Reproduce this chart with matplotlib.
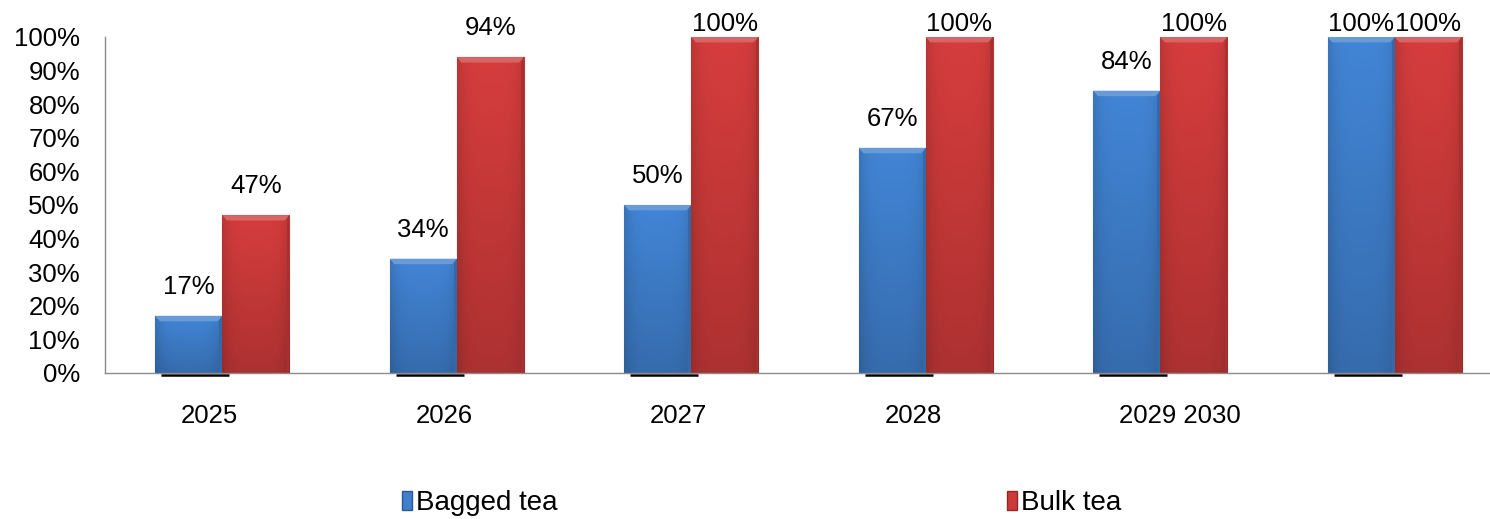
import numpy as np
import matplotlib.pyplot as plt
from matplotlib.patches import Patch, Polygon
from matplotlib.colors import to_rgb

plt.rcParams["font.family"] = ["Liberation Sans", "DejaVu Sans"]

years = ["2025", "2026", "2027", "2028", "2029 2030"]
bagged = [0.17, 0.34, 0.50, 0.67, 0.84, 1.00]
bulk = [0.47, 0.94, 1.00, 1.00, 1.00, 1.00]
series_names = ["Bagged tea", "Bulk tea"]

BLUE = "#3f7fcc"
RED = "#cc3a3a"
W = 0.286


def shade(color, f):
    c = np.array(to_rgb(color))
    if f >= 1:
        return tuple(c + (1 - c) * (f - 1))
    return tuple(c * f)


def bevel_bar(ax, x, h, color):
    bar = ax.bar(x, h, W, color=color, edgecolor=shade(color, 0.75), linewidth=0.8, zorder=2)[0]
    # vertical gradient, darker towards the base and the side edges
    ny, nx = 60, 40
    vy = np.linspace(1.05, 0.85, ny)[:, None]
    vx = 1 - 0.12 * np.abs(np.linspace(-1, 1, nx))[None, :] ** 4
    f = vy * vx
    base = np.array(to_rgb(color))
    img = np.clip(base[None, None, :] * f[:, :, None], 0, 1)
    x0 = x - W / 2
    im = ax.imshow(img, extent=(x0, x0 + W, 0, h), aspect="auto", origin="upper", zorder=2.1)
    im.set_clip_path(bar)
    # light bevel along the top edge
    dx, dy = 0.02, 0.016
    top = Polygon([(x0, h), (x0 + W, h), (x0 + W - dx, h - dy), (x0 + dx, h - dy)],
                  closed=True, facecolor=shade(color, 1.22), edgecolor="none", zorder=2.2)
    ax.add_patch(top)
    # darker strip on the right side
    side = Polygon([(x0 + W, h), (x0 + W, 0), (x0 + W - dx * 0.6, 0), (x0 + W - dx * 0.6, h - dy)],
                   closed=True, facecolor=shade(color, 0.82), edgecolor="none", zorder=2.2)
    ax.add_patch(side)
    return bar


fig = plt.figure(figsize=(14.9, 5.19), dpi=100)
ax = fig.add_axes([105 / 1490, 146 / 519, 1407 / 1490, 336 / 519])

idx = np.arange(len(bagged))
for i in idx:
    bevel_bar(ax, i - W / 2, bagged[i], BLUE)
    bevel_bar(ax, i + W / 2, bulk[i], RED)
    # dark shadow line under the blue bar
    ax.plot([i - W + 0.025, i + 0.03], [-0.005, -0.005], color="black", lw=1.8,
            solid_capstyle="butt", clip_on=False, zorder=1)

# value labels, pulled down when they would leave the plot
for i in idx:
    for v, xoff in ((bagged[i], -W / 2), (bulk[i], W / 2)):
        ax.text(i + xoff, min(v + 0.05, 1.004), f"{v:.0%}", ha="center", va="bottom",
                fontsize=18.5, zorder=5)

ax.set_xlim(-0.5, 5.5)
ax.set_ylim(0, 1)
ax.set_yticks(np.arange(0, 1.01, 0.1))
ax.set_yticklabels([f"{t}%" for t in range(0, 101, 10)], fontsize=18.5)
ax.set_xticks(np.arange(len(years)) - 0.175)
ax.set_xticklabels(years, fontsize=18.5, ha="left")
ax.tick_params(axis="both", length=0)
ax.tick_params(axis="y", pad=18)
ax.tick_params(axis="x", pad=22)

for s in ("top", "right"):
    ax.spines[s].set_visible(False)
for s in ("left", "bottom"):
    ax.spines[s].set_color("#8c8c8c")
    ax.spines[s].set_linewidth(1.0)
    ax.spines[s].set_zorder(3)

handles = [Patch(facecolor=BLUE, edgecolor=shade(BLUE, 0.7)),
           Patch(facecolor=RED, edgecolor=shade(RED, 0.7))]
fig.legend(handles, series_names, loc="center left", bbox_to_anchor=(402 / 1490, 1 - 503 / 519),
           ncol=2, frameon=False, fontsize=20, handlelength=0.35, handleheight=0.7,
           handletextpad=0.15, columnspacing=16.2, borderpad=0, borderaxespad=0)

fig.savefig("out.png", dpi=100)
